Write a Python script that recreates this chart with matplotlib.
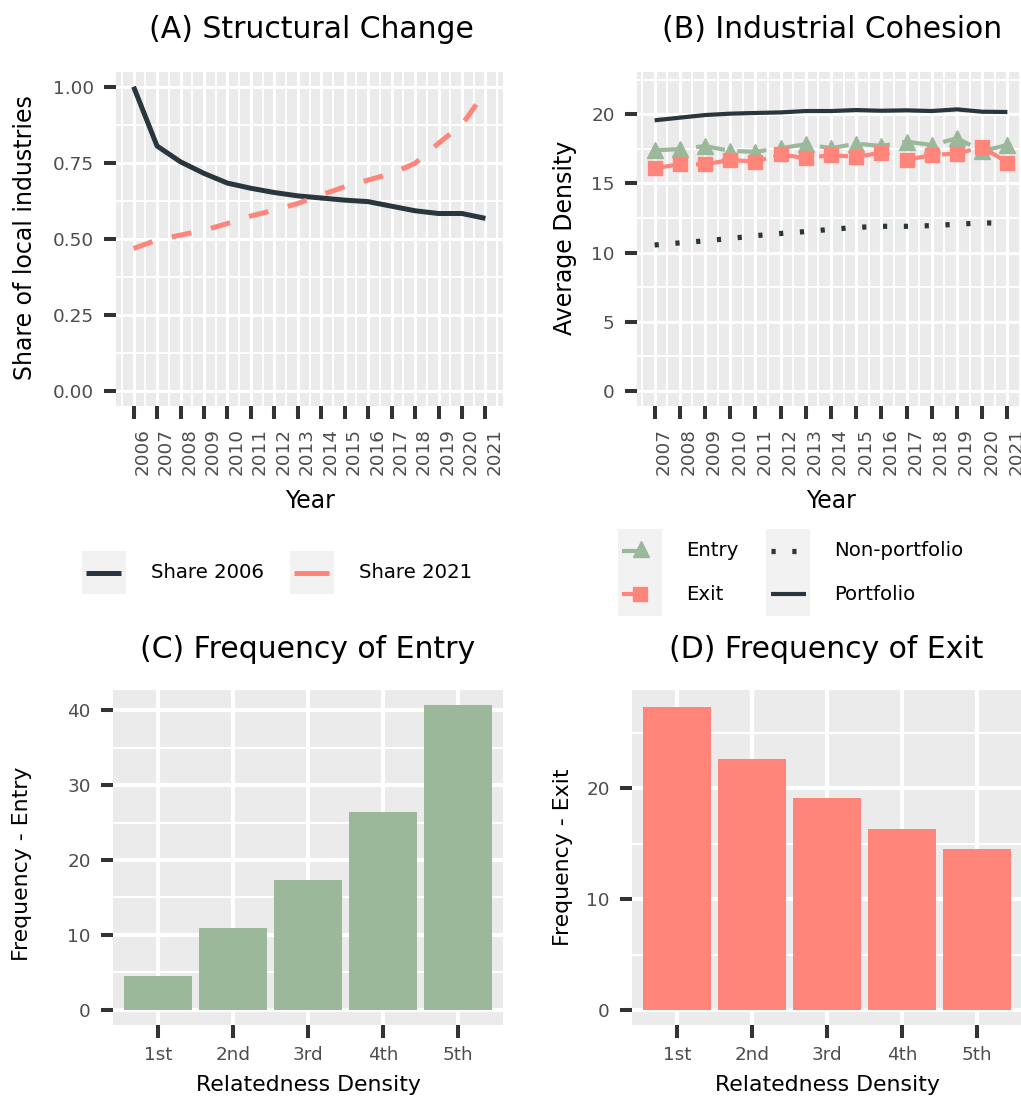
import numpy as np
import matplotlib
matplotlib.use("Agg")
import matplotlib.pyplot as plt
from matplotlib.lines import Line2D
from matplotlib.patches import Rectangle

# ---------------- data ----------------
years_a = [2006, 2007, 2008, 2009, 2010, 2011, 2012, 2013, 2014, 2015, 2016, 2017, 2018, 2019, 2020, 2021]
share_2006 = [1.00, 0.805, 0.753, 0.715, 0.683, 0.666, 0.652, 0.641, 0.634, 0.627, 0.622, 0.607, 0.592, 0.583, 0.583, 0.567]
share_2021 = [0.468, 0.496, 0.512, 0.528, 0.550, 0.575, 0.594, 0.616, 0.644, 0.671, 0.693, 0.715, 0.748, 0.814, 0.875, 0.984]

years_b = [2007, 2008, 2009, 2010, 2011, 2012, 2013, 2014, 2015, 2016, 2017, 2018, 2019, 2020, 2021]
portfolio = [19.57, 19.76, 19.95, 20.05, 20.10, 20.14, 20.24, 20.24, 20.31, 20.26, 20.29, 20.24, 20.36, 20.19, 20.17]
non_portfolio = [10.55, 10.70, 10.85, 11.02, 11.22, 11.38, 11.52, 11.68, 11.82, 11.90, 11.90, 11.95, 12.05, 12.15, 12.12]
entry_density = [17.40, 17.48, 17.71, 17.35, 17.30, 17.55, 17.84, 17.55, 17.88, 17.71, 18.02, 17.78, 18.27, 17.35, 17.78]
exit_density = [16.10, 16.39, 16.39, 16.70, 16.58, 17.11, 16.82, 17.06, 16.92, 17.23, 16.70, 17.06, 17.16, 17.64, 16.51]

quintiles = ["1st", "2nd", "3rd", "4th", "5th"]
freq_entry = [4.55, 10.97, 17.39, 26.35, 40.67]
freq_exit = [27.4, 22.7, 19.15, 16.38, 14.55]

# ---------------- style ----------------
DARK = "#29363D"
GREEN = "#9BB89A"
SALMON = "#FF857B"
PANEL = "#EBEBEB"
KEYBG = "#F2F2F2"
TICKC = "#333333"
LABC = "#4D4D4D"
FONT = "DejaVu Sans"
plt.rcParams["font.family"] = FONT

W, H, DPI = 1021, 1100, 100
fig = plt.figure(figsize=(W / DPI, H / DPI), dpi=DPI, facecolor="white")

TICKSIZE = 13.2


def ax_px(l, t, r, b):
    return fig.add_axes([l / W, 1 - b / H, (r - l) / W, (b - t) / H])


def fx(x):
    return x / W


def fy(y):
    return 1 - y / H


def style_axes(ax, major_lw, minor_lw, ticklen=9, tickw=2.9):
    ax.set_facecolor(PANEL)
    for s in ax.spines.values():
        s.set_visible(False)
    ax.grid(True, which="major", color="white", lw=major_lw)
    ax.grid(True, which="minor", color="white", lw=minor_lw)
    ax.set_axisbelow(True)
    ax.tick_params(which="major", length=ticklen, width=tickw, color=TICKC,
                   labelcolor=LABC, labelsize=TICKSIZE)
    ax.tick_params(which="minor", length=0)


# ---------------- Panel A ----------------
axA = ax_px(116, 71.5, 503, 406)
style_axes(axA, 2.2, 1.4)
axA.plot(years_a, share_2006, color=DARK, lw=3.6, solid_capstyle="butt", zorder=3)
axA.plot(years_a, share_2021, color=SALMON, lw=3.6, dashes=(4, 4), dash_capstyle="butt", zorder=3)
axA.set_xlim(2005.25, 2021.75)
axA.set_ylim(-0.05, 1.05)
axA.set_yticks([0, 0.25, 0.5, 0.75, 1.0])
axA.set_yticklabels(["0.00", "0.25", "0.50", "0.75", "1.00"])
axA.set_yticks(np.arange(0.125, 1.0, 0.25), minor=True)
axA.set_xticks(years_a)
axA.set_xticks(np.arange(2005.5, 2022, 1.0), minor=True)
axA.set_xticklabels([str(y) for y in years_a], rotation=90, ha="left", va="top")
axA.tick_params(axis="y", pad=7)
axA.tick_params(axis="x", pad=7)

# ---------------- Panel B ----------------
axB = ax_px(637, 71.5, 1025, 406)
style_axes(axB, 2.2, 1.4)
axB.plot(years_b, portfolio, color=DARK, lw=3.0, solid_capstyle="butt", zorder=3)
axB.plot(years_b, non_portfolio, color=DARK, lw=3.75, dashes=(0.8, 3.2), dash_capstyle="butt", zorder=3)
axB.plot(years_b, entry_density, color=GREEN, lw=3.0, dashes=(7, 3), dash_capstyle="butt",
         marker="^", ms=11.5, mec=GREEN, mfc=GREEN, zorder=3)
axB.plot(years_b, exit_density, color=SALMON, lw=3.0, dashes=(7, 3), dash_capstyle="butt",
         marker="s", ms=9.5, mec=SALMON, mfc=SALMON, zorder=4)
axB.set_xlim(2006.3, 2021.7)
axB.set_ylim(-1.1, 23.1)
axB.set_yticks([0, 5, 10, 15, 20])
axB.set_yticks(np.arange(2.5, 23, 5), minor=True)
axB.set_xticks(years_b)
axB.set_xticks(np.arange(2006.5, 2022, 1.0), minor=True)
axB.set_xticklabels([str(y) for y in years_b], rotation=90, ha="left", va="top")
axB.tick_params(axis="y", pad=7)
axB.tick_params(axis="x", pad=7)

# ---------------- Panel C ----------------
xpos = np.arange(1, len(quintiles) + 1)
axC = ax_px(113, 690, 503, 1025)
style_axes(axC, 3.0, 1.5)
axC.bar(xpos, freq_entry, width=0.9, color=GREEN, zorder=3)
axC.set_xlim(0.4, 5.6)
axC.set_ylim(-2.03, 42.7)
axC.set_yticks([0, 10, 20, 30, 40])
axC.set_yticks([5, 15, 25, 35], minor=True)
axC.set_xticks(xpos)
axC.set_xticklabels(quintiles)
axC.tick_params(axis="y", pad=7)
axC.tick_params(axis="x", pad=6)

# ---------------- Panel D ----------------
axD = ax_px(632, 690, 1022, 1025)
style_axes(axD, 3.0, 1.5)
axD.bar(xpos, freq_exit, width=0.9, color=SALMON, zorder=3)
axD.set_xlim(0.4, 5.6)
axD.set_ylim(-1.37, 28.9)
axD.set_yticks([0, 10, 20])
axD.set_yticks([5, 15, 25], minor=True)
axD.set_xticks(xpos)
axD.set_xticklabels(quintiles)
axD.tick_params(axis="y", pad=7)
axD.tick_params(axis="x", pad=6)

# ---------------- titles & axis titles ----------------
tsize = 21.5
fig.text(fx(311), fy(30), "(A) Structural Change", ha="center", va="center", fontsize=tsize)
fig.text(fx(832), fy(30), "(B) Industrial Cohesion", ha="center", va="center", fontsize=tsize)
fig.text(fx(308), fy(650), "(C) Frequency of Entry", ha="center", va="center", fontsize=tsize)
fig.text(fx(826), fy(650), "(D) Frequency of Exit", ha="center", va="center", fontsize=tsize)

asize = 17
fig.text(fx(310), fy(501), "Year", ha="center", va="center", fontsize=asize)
fig.text(fx(831), fy(501), "Year", ha="center", va="center", fontsize=asize)
fig.text(fx(25), fy(238), "Share of local industries", ha="center", va="center", rotation=90, fontsize=asize)
fig.text(fx(565), fy(238), "Average Density", ha="center", va="center", rotation=90, fontsize=asize)
csize = 15.8
fig.text(fx(22), fy(864), "Frequency - Entry", ha="center", va="center", rotation=90, fontsize=csize)
fig.text(fx(563), fy(857), "Frequency - Exit", ha="center", va="center", rotation=90, fontsize=csize)
fig.text(fx(308), fy(1085), "Relatedness Density", ha="center", va="center", fontsize=csize)
fig.text(fx(827), fy(1085), "Relatedness Density", ha="center", va="center", fontsize=csize)

# ---------------- legends (overlay in pixel coordinates) ----------------
lg = fig.add_axes([0, 0, 1, 1], facecolor="none")
lg.set_xlim(0, W)
lg.set_ylim(H, 0)
lg.axis("off")

lsize = 14.2
# legend A
lg.add_patch(Rectangle((82, 551), 44, 43, color=KEYBG, lw=0))
lg.add_line(Line2D([86, 121], [572.5, 572.5], color=DARK, lw=3.6, solid_capstyle="butt"))
lg.text(151, 573, "Share 2006", ha="left", va="center", fontsize=lsize)
lg.add_patch(Rectangle((290, 551), 44, 43, color=KEYBG, lw=0))
lg.add_line(Line2D([294, 329], [572.5, 572.5], color=SALMON, lw=3.6, solid_capstyle="butt"))
lg.text(359, 573, "Share 2021", ha="left", va="center", fontsize=lsize)

# legend B
lg.add_patch(Rectangle((618, 529), 44, 87, color=KEYBG, lw=0))
lg.add_patch(Rectangle((766, 529), 44, 87, color=KEYBG, lw=0))
lg.add_line(Line2D([622, 646], [551, 551], color=GREEN, lw=3.0, solid_capstyle="butt"))
lg.add_line(Line2D([641], [549], color=GREEN, marker="^", ms=11.5, lw=0))
lg.text(686, 551, "Entry", ha="left", va="center", fontsize=lsize)
lg.add_line(Line2D([622, 640], [594, 594], color=SALMON, lw=3.0, solid_capstyle="butt"))
lg.add_line(Line2D([640], [594], color=SALMON, marker="s", ms=9.5, lw=0))
lg.text(686, 594, "Exit", ha="left", va="center", fontsize=lsize)
lg.add_line(Line2D([771, 811], [551, 551], color=DARK, lw=3.75, dashes=(0.8, 3.2), dash_capstyle="butt"))
lg.text(834, 551, "Non-portfolio", ha="left", va="center", fontsize=lsize)
lg.add_line(Line2D([771, 806], [594, 594], color=DARK, lw=3.0, solid_capstyle="butt"))
lg.text(834, 594, "Portfolio", ha="left", va="center", fontsize=lsize)

fig.savefig("out.png", dpi=DPI, facecolor="white")
